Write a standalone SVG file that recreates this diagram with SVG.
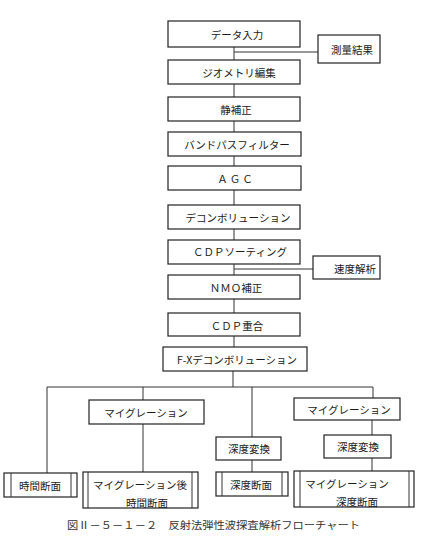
<svg xmlns="http://www.w3.org/2000/svg" width="422" height="545" viewBox="0 0 422 545">
<style>
.b{fill:#fff;stroke:#222;stroke-width:1.2}
.l{fill:none;stroke:#333;stroke-width:1}
.t{font-family:"Noto Sans CJK JP","Noto Sans",sans-serif;font-size:10.5px;fill:#1a1a1a;text-anchor:middle;dominant-baseline:central}
.c{font-family:"Noto Sans CJK JP",sans-serif;font-size:10px;fill:#333;dominant-baseline:central}
</style>
<rect width="422" height="545" fill="#fff"/>
<g id="connectors">
<path class="l" d="M234 47V60M234 52H318M234 84V97M234 121V132M234 156V166M234 190V205M234 229V240M234 264V275M234 269H313M234 299V313M234 336V347M233 371V387"/>
<path class="l" d="M47 473V387H373V398M143 387V400M143 424V472M252 387V437M252 460V472M372 420V435M372 458V471"/>
</g>
<g id="n1"><rect class="b" x="168" y="21" width="132" height="26"/><text class="t" x="237" y="34">データ入力</text></g>
<g id="n2"><rect class="b" x="318" y="35" width="62" height="28"/><text class="t" x="352" y="49">測量結果</text></g>
<g id="n3"><rect class="b" x="168" y="60" width="132" height="24"/><text class="t" x="239" y="72">ジオメトリ編集</text></g>
<g id="n4"><rect class="b" x="168" y="97" width="132" height="24"/><text class="t" x="236" y="109">静補正</text></g>
<g id="n5"><rect class="b" x="168" y="132" width="133" height="24"/><text class="t" x="237" y="144">バンドパスフィルター</text></g>
<g id="n6"><rect class="b" x="168" y="166" width="133" height="24"/><text class="t" x="236" y="178" letter-spacing="2">ＡＧＣ</text></g>
<g id="n7"><rect class="b" x="168" y="205" width="132" height="24"/><text class="t" x="238" y="217">デコンボリューション</text></g>
<g id="n8"><rect class="b" x="168" y="240" width="132" height="24"/><text class="t" x="240" y="251">ＣＤＰソーティング</text></g>
<g id="n9"><rect class="b" x="313" y="256" width="67" height="23"/><text class="t" x="355" y="268">速度解析</text></g>
<g id="n10"><rect class="b" x="168" y="275" width="132" height="24"/><text class="t" x="236" y="287">ＮＭＯ補正</text></g>
<g id="n11"><rect class="b" x="168" y="313" width="132" height="23"/><text class="t" x="237" y="325">ＣＤＰ重合</text></g>
<g id="n12"><rect class="b" x="163" y="347" width="144" height="24"/><text class="t" x="237" y="359">F-Xデコンボリューション</text></g>
<g id="n13"><rect class="b" x="89" y="400" width="115" height="24"/><text class="t" x="146" y="412">マイグレーション</text></g>
<g id="n14"><rect class="b" x="294" y="398" width="106" height="22"/><text class="t" x="349" y="409">マイグレーション</text></g>
<g id="n15"><rect class="b" x="216" y="437" width="65" height="23"/><text class="t" x="249" y="448">深度変換</text></g>
<g id="n16"><rect class="b" x="324" y="435" width="67" height="23"/><text class="t" x="358" y="446">深度変換</text></g>
<g id="n17"><rect class="b" x="4" y="473" width="73" height="24"/><path class="l" d="M11 473V497M71 473V497"/><text class="t" x="40" y="485">時間断面</text></g>
<g id="n18"><rect class="b" x="83" y="472" width="115" height="36"/><path class="l" d="M88 472V508M192 472V508"/><text class="t" x="140" y="484">マイグレーション後</text><text class="t" x="147" y="502">時間断面</text></g>
<g id="n19"><rect class="b" x="216" y="472" width="72" height="24"/><path class="l" d="M222 472V496M282 472V496"/><text class="t" x="251" y="484">深度断面</text></g>
<g id="n20"><rect class="b" x="294" y="471" width="120" height="36"/><path class="l" d="M300 471V507M409 471V507"/><text class="t" x="347" y="483">マイグレーション</text><text class="t" x="357" y="501">深度断面</text></g>
<text class="c" x="67" y="524" textLength="293" lengthAdjust="spacingAndGlyphs">図Ⅱ－５－１－２　反射法弾性波探査解析フローチャート</text>
</svg>
